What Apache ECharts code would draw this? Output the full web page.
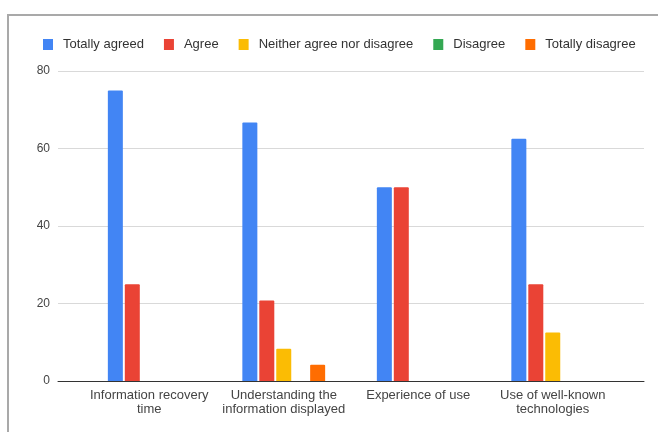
<!DOCTYPE html>
<html>
<head>
<meta charset="utf-8">
<script src="https://cdn.jsdelivr.net/npm/echarts@6/dist/echarts.min.js"></script>
<style>
  html, body { margin: 0; padding: 0; background: #fff; }
  #frame {
    position: absolute; left: 7px; top: 14px; right: -4px; bottom: -4px;
    border-top: 2px solid #a9a9a9; border-left: 2px solid #a9a9a9;
  }
  #chart { position: absolute; left: 0; top: 0; width: 658px; height: 432px; }
</style>
</head>
<body>
<div id="frame"></div>
<div id="chart"></div>
<script>
// categories (line breaks as shown under the axis)
const categories = [
  'Information recovery\ntime',
  'Understanding the\ninformation displayed',
  'Experience of use',
  'Use of well-known\ntechnologies'
]
const seriesNames = ['Totally agreed', 'Agree', 'Neither agree nor disagree', 'Disagree', 'Totally disagree']
const totallyAgreed = [75, 66.7, 50, 62.5]
const agree = [25, 20.8, 50, 25]
const neither = [0, 8.3, 0, 12.5]
const disagree = [0, 0, 0, 0]
const totallyDisagree = [0, 4.2, 0, 0]
const colors = ['#4285F4', '#EA4335', '#FBBC04', '#34A853', '#FF6D01']
const yTicks = [0, 20, 40, 60, 80]

const values = [totallyAgreed, agree, neither, disagree, totallyDisagree]
const font = 'Arial, "Liberation Sans", sans-serif'

const chart = echarts.init(document.getElementById('chart'))
chart.setOption({
  animation: false,
  color: colors,
  textStyle: { fontFamily: font },
  legend: {
    left: 38,
    top: 33,
    itemWidth: 10,
    itemHeight: 11,
    itemGap: 20,
    icon: 'rect',
    data: seriesNames,
    textStyle: { fontSize: 13, color: '#333', padding: [0, 0, 0, 5], fontFamily: font }
  },
  grid: [
    // wide grid: gridlines, y labels and baseline
    { left: 58, right: 14, top: 71, bottom: 51 },
    // narrow grid: the bars and category labels
    { left: 82, right: 38, top: 71, bottom: 51 }
  ],
  xAxis: [
    {
      gridIndex: 0, type: 'category', data: ['a'],
      axisLine: { lineStyle: { color: '#333', width: 1 } },
      axisTick: { show: false }, axisLabel: { show: false }
    },
    {
      gridIndex: 1, type: 'category', data: categories,
      axisLine: { show: false }, axisTick: { show: false },
      axisLabel: { fontSize: 13, color: '#444', lineHeight: 14, margin: 7, interval: 0, fontFamily: font }
    }
  ],
  yAxis: [
    {
      gridIndex: 0, type: 'value', min: yTicks[0], max: yTicks[yTicks.length - 1], interval: 20,
      axisLine: { show: false }, axisTick: { show: false },
      axisLabel: { fontSize: 12, color: '#444', margin: 8, fontFamily: font },
      splitLine: { lineStyle: { color: '#d9d9d9', width: 1 } }
    },
    {
      gridIndex: 1, type: 'value', min: 0, max: 80, interval: 20,
      axisLine: { show: false }, axisTick: { show: false },
      axisLabel: { show: false }, splitLine: { show: false }
    }
  ],
  series: seriesNames.map((name, i) => ({
    name,
    type: 'bar',
    xAxisIndex: 1,
    yAxisIndex: 1,
    data: values[i],
    barWidth: 15,
    barGap: '13%',
    itemStyle: { color: colors[i], borderRadius: [1, 1, 0, 0] }
  }))
})
</script>
</body>
</html>
